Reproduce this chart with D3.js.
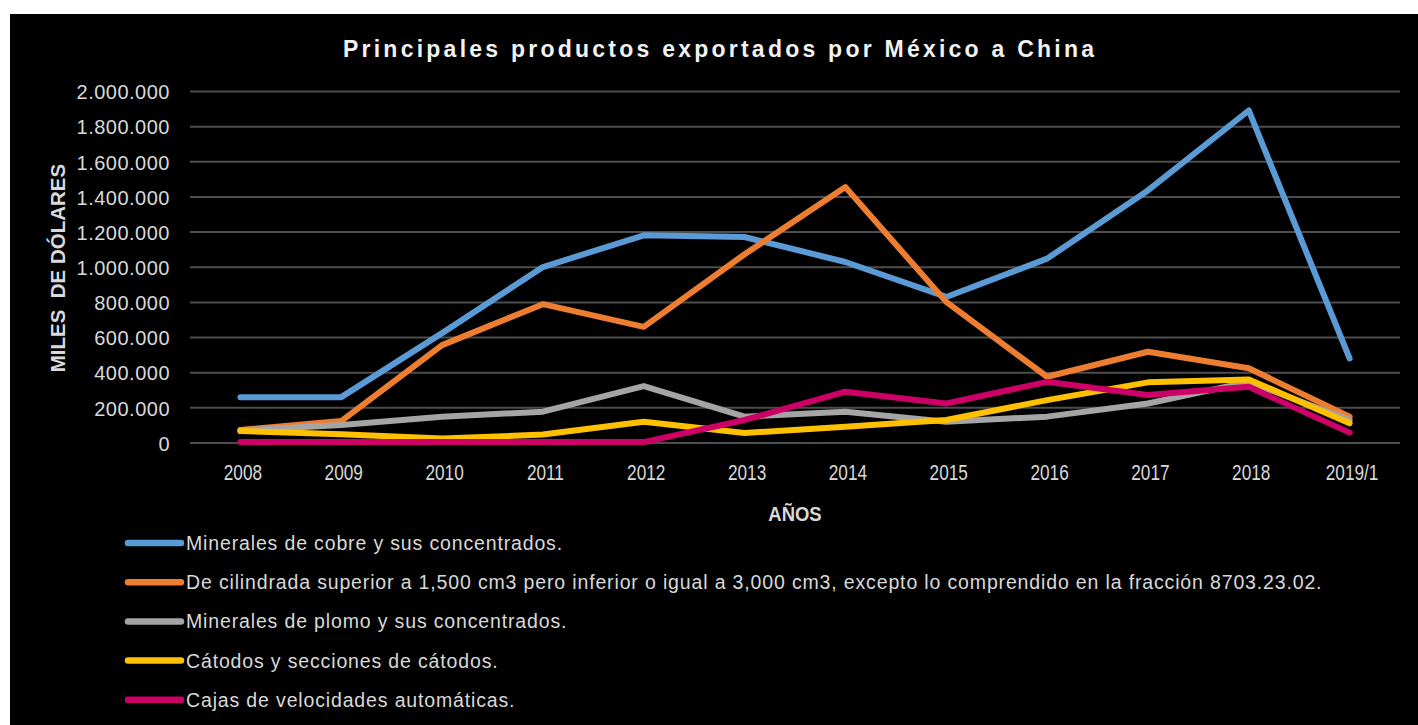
<!DOCTYPE html>
<html><head><meta charset="utf-8">
<script src="https://cdn.jsdelivr.net/npm/d3@7"></script>
<style>html,body{margin:0;padding:0;background:#fff;}svg{display:block;}</style>
</head><body>
<svg id="chart" width="1418" height="725"></svg>
<script>
const categories = ["2008","2009","2010","2011","2012","2013","2014","2015","2016","2017","2018","2019/1"];
const cobre    = [261000, 261000, 625000, 1001000, 1182000, 1172000, 1030000, 831000, 1049000, 1437000, 1892000, 481000];
const cilindro = [74000, 125000, 557000, 790000, 661000, 1074000, 1456000, 803000, 377000, 519000, 425000, 150000];
const plomo    = [72000, 102000, 150000, 178000, 324000, 150000, 178000, 121000, 150000, 225000, 348000, 130000];
const catodos  = [68000, 50000, 25000, 48000, 121000, 57000, 93000, 131000, 244000, 345000, 362000, 112000];
const cajas    = [5000, 5000, 5000, 5000, 5000, 131000, 292000, 225000, 348000, 273000, 320000, 59000];
const seriesNames = [
  "Minerales de cobre y sus concentrados.",
  "De cilindrada superior a 1,500 cm3 pero inferior o igual a 3,000 cm3, excepto lo comprendido en la fracción 8703.23.02.",
  "Minerales de plomo y sus concentrados.",
  "Cátodos y secciones de cátodos.",
  "Cajas de velocidades automáticas."
];
const seriesColors = ["#5B9BD5", "#ED7D31", "#A5A5A5", "#FFC000", "#CC0066"];
const yTicks = [0,200000,400000,600000,800000,1000000,1200000,1400000,1600000,1800000,2000000];

const series = [cobre, cilindro, plomo, catodos, cajas];
const svg = d3.select("#chart");
svg.append("rect").attr("x",10).attr("y",14).attr("width",1408).attr("height",711).attr("fill","#000");

const x = d3.scalePoint().domain(categories).range([190,1400]).padding(0.5);
const y = d3.scaleLinear().domain([0,2000000]).range([443,91.5]);

// gridlines
svg.append("g").selectAll("line").data(yTicks).join("line")
  .attr("x1",190).attr("x2",1400)
  .attr("y1",d=>y(d)).attr("y2",d=>y(d))
  .attr("stroke","#4d4d4d").attr("stroke-width",2);

const fmt = v => v===0 ? "0" : d3.format(",")(v).replace(/,/g,".");
const yAxis = d3.axisLeft(y).tickValues(yTicks).tickFormat(fmt).tickSize(0).tickPadding(0);
const gy = svg.append("g").attr("transform","translate(170,0)").call(yAxis);
gy.select(".domain").remove();
gy.selectAll("text").attr("fill","#d9d9d9").attr("font-family","'Liberation Sans', Arial, sans-serif")
  .attr("font-size",20).attr("letter-spacing","0.5px").attr("dy","0.36em");

const xAxis = d3.axisBottom(x).tickSize(0).tickPadding(0);
const gx = svg.append("g").attr("transform","translate(2,465)").call(xAxis);
gx.select(".domain").remove();
gx.selectAll("text").attr("fill","#d9d9d9").attr("font-family","'Liberation Sans', Arial, sans-serif")
  .attr("font-size",21.5).attr("dy","0.71em")
  .each(function(){ const w=this.getComputedTextLength(); d3.select(this).attr("textLength",w*0.8).attr("lengthAdjust","spacingAndGlyphs"); });

const line = d3.line().x((d,i)=>x(categories[i])).y(d=>y(d));
svg.append("g").selectAll("path").data(series).join("path")
  .attr("d",line).attr("fill","none")
  .attr("stroke",(d,i)=>seriesColors[i]).attr("stroke-width",6)
  .attr("stroke-linejoin","round").attr("stroke-linecap","round");

// title
svg.append("text").attr("x",718.5).attr("y",57).attr("text-anchor","middle")
  .attr("fill","#f2f2f2").attr("font-family","'Liberation Sans', Arial, sans-serif")
  .attr("font-weight","bold").attr("font-size",23)
  .attr("textLength",751).attr("lengthAdjust","spacing")
  .text("Principales productos exportados por México a China");

// axis titles
svg.append("text").attr("transform","translate(65,268) rotate(-90)").attr("text-anchor","middle")
  .attr("fill","#d9d9d9").attr("font-family","'Liberation Sans', Arial, sans-serif")
  .attr("font-weight","bold").attr("font-size",20.5).attr("xml:space","preserve")
  .text("MILES  DE DÓLARES");
svg.append("text").attr("x",795).attr("y",521).attr("text-anchor","middle")
  .attr("fill","#d9d9d9").attr("font-family","'Liberation Sans', Arial, sans-serif")
  .attr("font-weight","bold").attr("font-size",21)
  .text("AÑOS")
  .each(function(){ const w=this.getComputedTextLength(); d3.select(this).attr("textLength",w*0.88).attr("lengthAdjust","spacingAndGlyphs"); });

// legend
const lg = svg.append("g").selectAll("g").data(seriesNames).join("g")
  .attr("transform",(d,i)=>`translate(0,${543 + i*39.2})`);
lg.append("line").attr("x1",128).attr("x2",181).attr("y1",0).attr("y2",0)
  .attr("stroke",(d,i)=>seriesColors[i]).attr("stroke-width",6.5).attr("stroke-linecap","round");
lg.append("text").attr("x",186).attr("y",0).attr("dy","0.36em")
  .attr("fill","#d9d9d9").attr("font-family","'Liberation Sans', Arial, sans-serif")
  .attr("font-size",19.5).attr("letter-spacing","0.85px").text(d=>d);
</script>
</body></html>
